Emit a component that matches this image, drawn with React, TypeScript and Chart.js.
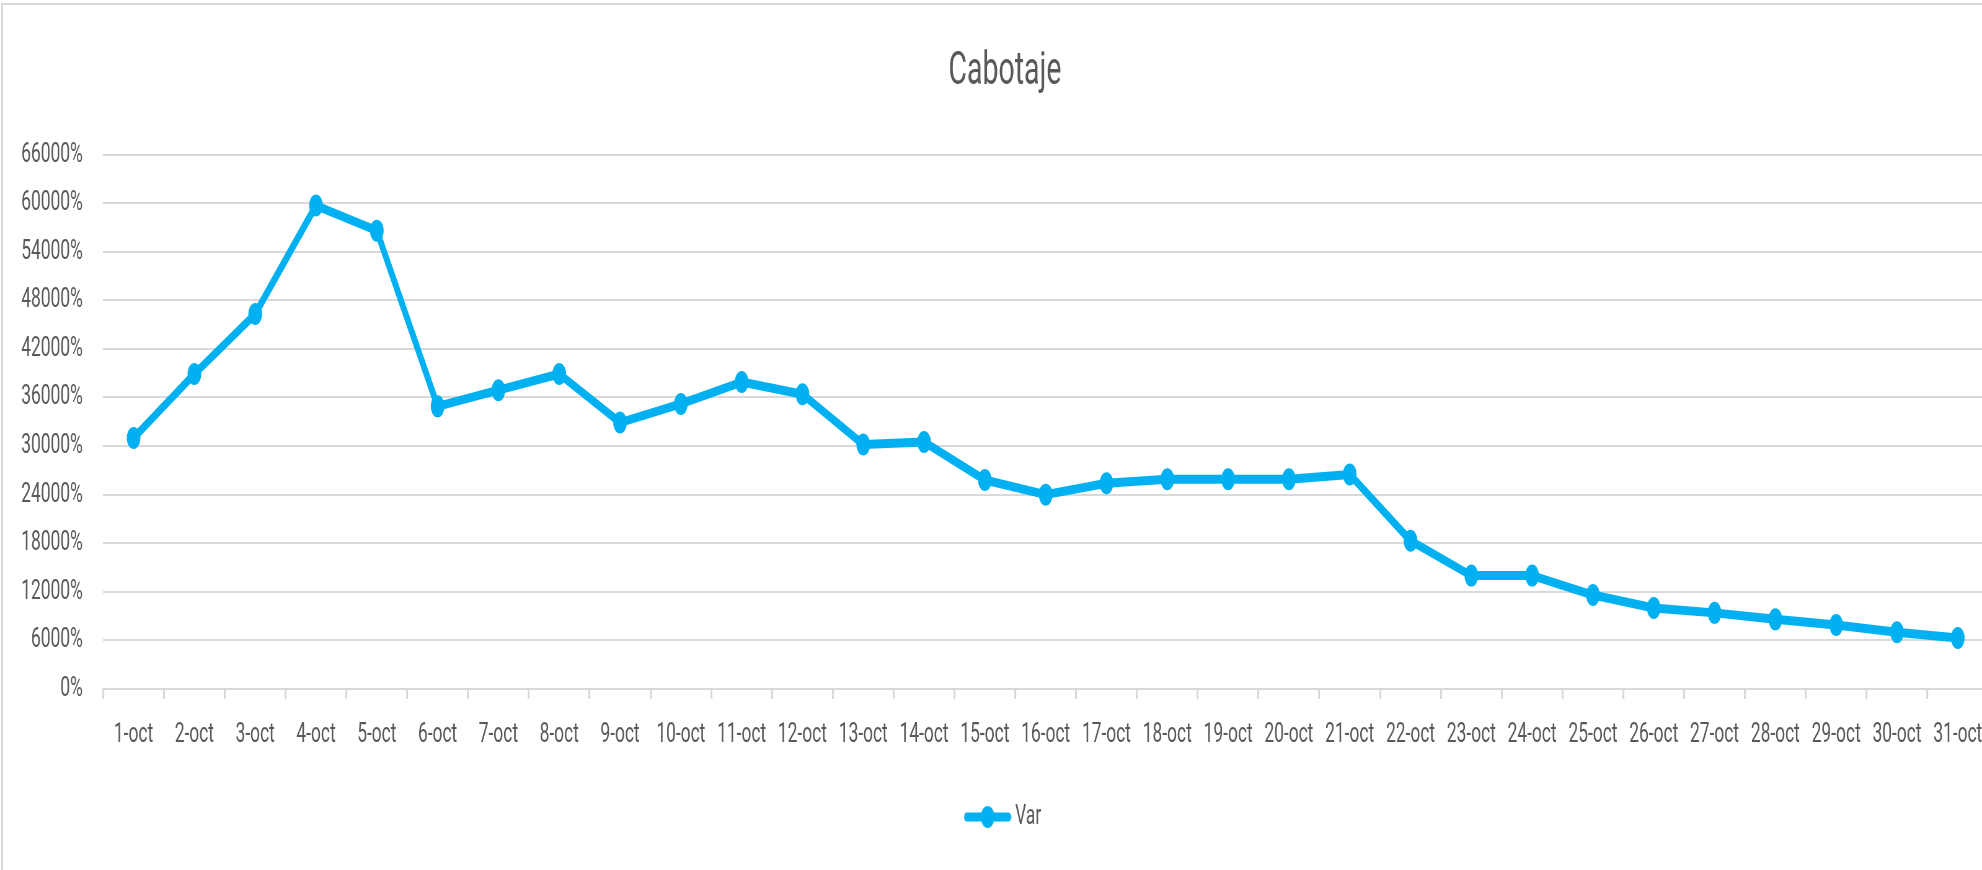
import React, { useEffect, useRef } from "react";
import { Chart, registerables } from "chart.js";

Chart.register(...registerables);

// ---- data ----
const categories: string[] = [
  "1-oct", "2-oct", "3-oct", "4-oct", "5-oct", "6-oct", "7-oct", "8-oct", "9-oct", "10-oct",
  "11-oct", "12-oct", "13-oct", "14-oct", "15-oct", "16-oct", "17-oct", "18-oct", "19-oct", "20-oct",
  "21-oct", "22-oct", "23-oct", "24-oct", "25-oct", "26-oct", "27-oct", "28-oct", "29-oct", "30-oct",
  "31-oct",
];
const varValues: number[] = [
  31000, 38900, 46300, 59700, 56600, 34900, 36900, 38900, 32900, 35200,
  37900, 36400, 30200, 30500, 25800, 24000, 25400, 25900, 25900, 25900,
  26500, 18300, 14000, 14000, 11600, 10000, 9400, 8600, 7900, 7000,
  6300,
];
const seriesName = "Var";
const chartTitle = "Cabotaje";
const yMin = 0;
const yMax = 66000;
const yStep = 6000;

// ---- style ----
const BLUE = "#00B0F0";
const TEXT = "#595959";
const GRID = "#d9d9d9";
const FONT = "Roboto, 'Open Sans', sans-serif";

// the reference picture is squeezed horizontally; reproduce by drawing on a
// wider canvas and displaying it narrower
const CSS_W = 1995;
const SQ = 0.62;
const INT_W = Math.round(CSS_W / SQ);
const H = 870;

function makeLegendImage(): HTMLCanvasElement {
  const c = document.createElement("canvas");
  const w = 77;
  const h = 24;
  c.width = w;
  c.height = h;
  const ctx = c.getContext("2d")!;
  ctx.strokeStyle = BLUE;
  ctx.fillStyle = BLUE;
  ctx.lineWidth = 9;
  ctx.lineCap = "round";
  ctx.beginPath();
  ctx.moveTo(5, h / 2);
  ctx.lineTo(w - 5, h / 2);
  ctx.stroke();
  ctx.beginPath();
  ctx.arc(w / 2, h / 2, 11, 0, Math.PI * 2);
  ctx.fill();
  return c;
}

export default function App() {
  const ref = useRef<HTMLCanvasElement>(null);

  useEffect(() => {
    document.body.style.margin = "0";
    const canvas = ref.current!;
    const legendImg = makeLegendImage();
    const chart = new Chart(canvas, {
      type: "line",
      data: {
        labels: categories,
        datasets: [
          {
            label: seriesName,
            data: varValues,
            borderColor: BLUE,
            backgroundColor: BLUE,
            borderWidth: 9,
            borderJoinStyle: "round",
            borderCapStyle: "round",
            pointRadius: 11,
            pointHoverRadius: 11,
            pointBackgroundColor: BLUE,
            pointBorderWidth: 0,
            tension: 0,
            fill: false,
          },
        ],
      },
      options: {
        responsive: false,
        animation: false,
        devicePixelRatio: 1,
        events: [],
        layout: { padding: { left: 24, right: 0, top: 0, bottom: 29 } },
        plugins: {
          title: {
            display: true,
            text: chartTitle,
            color: TEXT,
            font: { family: FONT, size: 46, weight: "normal" },
            padding: { top: 44.4, bottom: 54.9 },
          },
          legend: {
            display: true,
            position: "bottom",
            labels: {
              usePointStyle: true,
              pointStyle: legendImg as any,
              pointStyleWidth: 61,
              color: TEXT,
              font: { family: FONT, size: 28 },
              padding: 10,
            },
          },
          tooltip: { enabled: false },
        },
        scales: {
          x: {
            type: "category",
            offset: true,
            grid: {
              display: true,
              offset: true,
              drawOnChartArea: false,
              drawTicks: true,
              tickLength: 10,
              color: GRID,
              lineWidth: 3.2,
            },
            border: { display: true, color: GRID, width: 2 },
            ticks: {
              autoSkip: false,
              maxRotation: 0,
              minRotation: 0,
              padding: 19,
              color: TEXT,
              font: { family: FONT, size: 28 },
            },
            afterFit: (s: any) => {
              s.height = 104;
            },
          },
          y: {
            min: yMin,
            max: yMax,
            ticks: {
              stepSize: yStep,
              padding: 33,
              color: TEXT,
              font: { family: FONT, size: 28 },
              callback: (v: any) => `${v}%`,
            },
            grid: { color: GRID, lineWidth: 2, drawTicks: false },
            border: { display: false },
            afterFit: (s: any) => {
              s.width = 142.4;
            },
          },
        },
      },
    });
    return () => chart.destroy();
  }, []);

  return (
    <div
      style={{
        position: "relative",
        width: 1982,
        height: H,
        overflow: "hidden",
        background: "#ffffff",
      }}
    >
      <div
        style={{
          position: "absolute",
          left: 1,
          top: 3,
          width: 3000,
          height: 3000,
          borderLeft: `2px solid ${GRID}`,
          borderTop: `2px solid ${GRID}`,
        }}
      />
      <canvas
        ref={ref}
        width={INT_W}
        height={H}
        style={{
          position: "absolute",
          left: 0,
          top: 0,
          width: CSS_W,
          height: H,
          display: "block",
        }}
      />
    </div>
  );
}
